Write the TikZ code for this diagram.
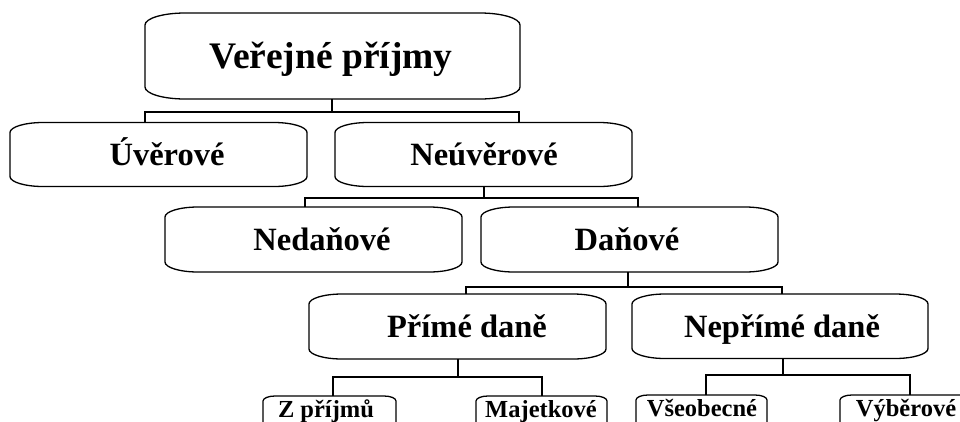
\documentclass[tikz,border=0pt]{standalone}
\usepackage{fontspec}
\setmainfont{Liberation Serif}
\tikzset{
  boxline/.style={draw=black, line width=1.3pt},
  conn/.style={draw=black, line width=1.3pt, line join=miter},
  lbl/.style={inner sep=0pt, text depth=0pt, minimum width=10pt},
  big/.style={lbl, text height=24.8pt, font=\fontsize{37.5}{42}\selectfont\bfseries},
  mid/.style={lbl, text height=21.5pt, font=\fontsize{32.5}{38}\selectfont\bfseries},
  small/.style={lbl, text height=16.2pt, font=\fontsize{24.5}{28}\selectfont\bfseries},
}
% rounded box with elliptical corners: x1,y1,x2,y2,rx,ry
\newcommand\rrbox[6]{%
 \draw[boxline] (#1+#5,#2) -- (#3-#5,#2)
   .. controls (#3-0.448*#5,#2) and (#3,#2+0.448*#6) .. (#3,#2+#6)
   -- (#3,#4-#6)
   .. controls (#3,#4-0.448*#6) and (#3-0.448*#5,#4) .. (#3-#5,#4)
   -- (#1+#5,#4)
   .. controls (#1+0.448*#5,#4) and (#1,#4-0.448*#6) .. (#1,#4-#6)
   -- (#1,#2+#6)
   .. controls (#1,#2+0.448*#6) and (#1+0.448*#5,#2) .. (#1+#5,#2) -- cycle;}
\begin{document}
\begin{tikzpicture}[x=1pt,y=-1pt]
\useasboundingbox (0,0) rectangle (960,421);
\clip (0,0) rectangle (960,421);
\fill[white] (0,0) rectangle (960,421);

% level 1
\rrbox{145}{13}{520}{99}{40}{12}
\node[big, minimum height=86pt] (top) at (331,56) {Veřejné příjmy};

% level 2
\rrbox{10}{122.5}{307}{186.5}{33}{10}
\node[mid, minimum height=64pt] (uv) at (167,154.5) {Úvěrové};
\rrbox{335}{122.5}{632}{186.5}{33}{10}
\node[mid, minimum height=64pt] (nv) at (484,154.5) {Neúvěrové};

% level 3
\rrbox{165}{207}{462}{272}{33}{10}
\node[mid, minimum height=65pt] (ned) at (322,239.5) {Nedaňové};
\rrbox{481}{207}{778}{272}{33}{10}
\node[mid, minimum height=65pt] (dan) at (627,239.5) {Daňové};

% level 4
\rrbox{309}{294}{606}{359}{33}{10}
\node[mid, minimum height=65pt] (pd) at (467,326.5) {Přímé daně};
\rrbox{632}{294}{928}{358.5}{33}{10}
\node[mid, minimum height=64.5pt] (npd) at (782,326.25) {Nepřímé daně};

% level 5 (cut off at the bottom)
\rrbox{263}{396}{396}{450}{12}{5}
\node[small, minimum height=26pt] (zp) at (326,409) {Z příjmů};
\rrbox{476}{396}{607}{450}{12}{5}
\node[small, minimum height=26pt] (maj) at (541,409) {Majetkové};
\rrbox{636}{395}{767}{450}{12}{5}
\node[small, minimum height=26pt] (vse) at (702,408) {Všeobecné};
\rrbox{840}{395}{990}{450}{12}{5}
\node[small, minimum height=26pt] (vyb) at (906,408) {Výběrové};

% connectors
\coordinate (b1l) at (145,112); \coordinate (b1r) at (519,112);
\draw[conn] (top.south -| 332,0) -- (332,112);
\draw[conn] (uv.north -| b1l) -- (b1l) -- (b1r) -- (nv.north -| b1r);

\coordinate (b2l) at (305,198); \coordinate (b2r) at (638,198);
\draw[conn] (nv.south) -- (nv.south |- b2l);
\draw[conn] (ned.north -| b2l) -- (b2l) -- (b2r) -- (dan.north -| b2r);

\coordinate (b3l) at (466,287); \coordinate (b3r) at (782,287);
\draw[conn] (dan.south -| 628,0) -- (628,287);
\draw[conn] (pd.north -| b3l) -- (b3l) -- (b3r) -- (npd.north -| b3r);

\coordinate (s4) at (458,377);
\coordinate (b4l) at (333,377); \coordinate (b4r) at (542,377);
\draw[conn] (pd.south -| s4) -- (s4);
\draw[conn] (zp.north -| b4l) -- (b4l) -- (b4r) -- (maj.north -| b4r);

\coordinate (b5l) at (706,375); \coordinate (b5r) at (910,375);
\draw[conn] (npd.south -| 783,0) -- (783,375);
\draw[conn] (vse.north -| b5l) -- (b5l) -- (b5r) -- (vyb.north -| b5r);
\end{tikzpicture}
\end{document}
